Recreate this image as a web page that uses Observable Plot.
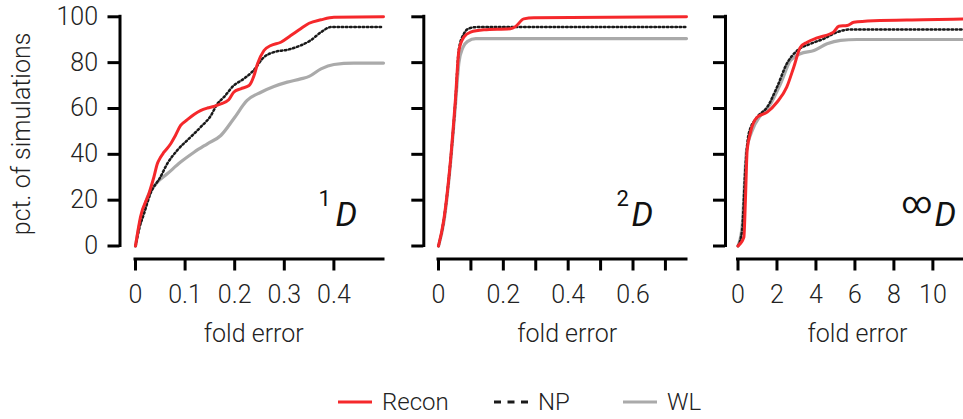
<!DOCTYPE html>
<html><head><meta charset="utf-8">
<script src="https://cdn.jsdelivr.net/npm/d3@7"></script>
<script src="https://cdn.jsdelivr.net/npm/@observablehq/plot@0.6"></script>
<style>
html,body{margin:0;padding:0;background:#fff;}
#chart{position:relative;width:963px;height:419px;overflow:hidden;background:#fff;font-family:Roboto,sans-serif;font-weight:300;color:#222;}
.panel{position:absolute;top:0;}
.panel svg{overflow:visible;}
#chart svg [aria-label="x-axis tick"] path,#chart svg [aria-label="y-axis tick"] path{stroke-width:3px;}
.legend-item{position:absolute;top:390px;height:24px;display:flex;align-items:center;font-size:24px;white-space:nowrap;}
.legend-item svg{margin-right:10px;}
</style>
</head><body>
<div id="chart"></div>
<script>
// ---- data (x = fold error, y = pct. of simulations) ----
const recon1 = [[0,0],[0.01,12.6],[0.027,22.8],[0.037,30],[0.044,35.9],[0.0505,38.7],[0.057,40.8],[0.071,44.6],[0.08,48],[0.091,52.6],[0.104,55],[0.118,57.4],[0.131,59.1],[0.145,60.2],[0.158,60.9],[0.172,62],[0.188,63.8],[0.198,67.1],[0.212,68.6],[0.229,70],[0.239,74.4],[0.246,79.5],[0.259,85.3],[0.273,87.5],[0.293,88.9],[0.313,91.8],[0.333,94.8],[0.35,97.2],[0.374,98.7],[0.4,99.8],[0.5,100]];
const np1 = [[0,0],[0.008,8],[0.017,14],[0.03,22.8],[0.05,30],[0.064,35.9],[0.084,41.7],[0.111,47.5],[0.131,51.8],[0.152,56.9],[0.165,62],[0.178,64.9],[0.198,70],[0.218,72.9],[0.238,76.6],[0.259,82.4],[0.279,84.6],[0.306,85.6],[0.333,87.5],[0.353,89.7],[0.374,93.3],[0.394,95.5],[0.5,95.5]];
const wl1 = [[0,0],[0.01,11.1],[0.024,21.3],[0.044,27.8],[0.064,31.5],[0.091,36.6],[0.118,40.9],[0.145,44.6],[0.172,48.2],[0.198,55.5],[0.225,63.5],[0.253,67.1],[0.279,69.6],[0.306,71.5],[0.333,72.9],[0.35,74],[0.374,77.3],[0.4,79.2],[0.44,79.8],[0.5,79.8]];

const recon2 = [[0,0],[0.016,11.1],[0.037,37.3],[0.052,63.5],[0.063,85.3],[0.078,91.1],[0.099,93.3],[0.14,94.3],[0.222,94.8],[0.238,95.8],[0.263,99.1],[0.294,99.6],[0.765,100]];
const np2 = [[0,0],[0.016,11],[0.037,37],[0.052,63],[0.063,86],[0.078,92.5],[0.095,95],[0.12,95.5],[0.765,95.5]];
const wl2 = [[0,0],[0.016,10],[0.037,36],[0.052,61],[0.063,80],[0.075,86.5],[0.09,89.3],[0.115,90.5],[0.765,90.5]];

const recon3 = [[0,0],[0.3,3.8],[0.38,19.9],[0.47,41.7],[0.64,49.6],[0.98,56.2],[1.5,58.4],[2.0,62.7],[2.5,69.3],[2.86,78],[3.2,86.7],[3.55,88.9],[4.06,90.8],[4.74,92.6],[4.9,93.3],[5.17,95.9],[5.6,96.2],[5.94,97.6],[6.96,98.3],[9.5,98.7],[12.7,99.2]];
const np3 = [[0,0],[0.21,6.8],[0.38,34],[0.55,49],[0.98,56.2],[1.5,60.6],[2.0,69.3],[2.5,79.5],[3.04,85.3],[3.72,88.2],[4.4,90.4],[5.09,93.3],[5.77,94.5],[12.7,94.5]];
const wl3 = [[0,0],[0.21,8.2],[0.44,41.7],[0.73,50.4],[1.15,56.9],[1.67,62],[2.18,70.8],[2.69,80.9],[3.2,83.9],[3.9,85.3],[4.57,88.2],[5.26,89.7],[6.1,90.1],[12.7,90.1]];

const yTicks = [0, 20, 40, 60, 80, 100];
const xTicks1 = [0, 0.1, 0.2, 0.3, 0.4];
const xLabels1 = [0, 0.1, 0.2, 0.3, 0.4];
const xTicks2 = [0, 0.1, 0.2, 0.3, 0.4, 0.5, 0.6, 0.7];
const xLabels2 = [0, 0.2, 0.4, 0.6];
const xTicks3 = [0, 2, 4, 6, 8, 10];
const xLabels3 = [0, 2, 4, 6, 8, 10];
const xDomains = [[0, 0.5], [0, 0.765], [0, 12.7]];
const panelSups = ["1", "2", "\u221E"];
const seriesNames = ["Recon", "NP", "WL"];
const yLabel = "pct. of simulations";
const xLabel = "fold error";

// ---- styles ----
const RED = "#f5282b", GRAY = "#aaaaaa", BLACK = "#1a1a1a";
const H = 360;

const panels = [
  {left: 0, width: 400, mL: 119.5, inset: 15.5, mR: 17, data: [wl1, np1, recon1], xt: xTicks1, xl: xLabels1, dom: xDomains[0], sup: panelSups[0], supDx: -65, supSize: 22, supDy: -53.5, dDx: -48, lblDx: 2, showY: true},
  {left: 400, width: 300, mL: 23.3, inset: 14.7, mR: 14, data: [wl2, np2, recon2], xt: xTicks2, xl: xLabels2, dom: xDomains[1], sup: panelSups[1], supDx: -70, supSize: 22, supDy: -53.5, dDx: -55, lblDx: 12, showY: false},
  {left: 700, width: 300, mL: 25, inset: 12.5, mR: 15, data: [wl3, np3, recon3], xt: xTicks3, xl: xLabels3, dom: xDomains[2], sup: panelSups[2], supDx: -84, supSize: 30, supDy: -46, dDx: -51, lblDx: 2, showY: false}
];

const chart = document.getElementById("chart");

panels.forEach((p) => {
  const [wl, np, rc] = p.data;
  const marks = [
    Plot.line(wl, {x: d => d[0], y: d => d[1], stroke: GRAY, strokeWidth: 3.2, curve: "monotone-x"}),
    Plot.line(np, {x: d => d[0], y: d => d[1], stroke: BLACK, strokeWidth: 2.5, strokeDasharray: "1.6 2.6", curve: "monotone-x"}),
    Plot.line(rc, {x: d => d[0], y: d => d[1], stroke: RED, strokeWidth: 3, curve: "monotone-x"}),
    // spines
    Plot.ruleX([0], {y1: 0, y2: 100, dx: -p.inset, stroke: "#000", strokeWidth: 3, strokeLinecap: "square"}),
    Plot.ruleY([0], {x1: p.dom[0], x2: p.dom[1], dy: 13, stroke: "#000", strokeWidth: 3, strokeLinecap: "square"}),
    Plot.axisY({ticks: yTicks, tickSize: 12, tickPadding: 10, strokeWidth: 3, stroke: "#000", fill: "#222", label: null,
      tickFormat: d => p.showY ? String(d) : ""}),
    Plot.axisX({ticks: p.xt, tickSize: 12, tickPadding: 14.5, strokeWidth: 3, stroke: "#000", fill: "#222", label: null,
      tickFormat: d => p.xl.includes(d) ? String(d) : ""}),
    Plot.text([xLabel], {frameAnchor: "bottom", lineAnchor: "bottom", dy: 83, dx: p.lblDx, fill: "#222"}),
    Plot.text([p.sup], {frameAnchor: "bottom-right", textAnchor: "start", lineAnchor: "bottom", dx: p.supDx, dy: p.supDy, fontSize: p.supSize, fontWeight: 400, fill: "#111"}),
    Plot.text(["D"], {frameAnchor: "bottom-right", textAnchor: "start", lineAnchor: "bottom", dx: p.dDx, dy: -33.5, fontSize: 34, fontWeight: 400, fontStyle: "italic", fill: "#111"})
  ];
  if (p.showY) {
    marks.push(Plot.text([yLabel], {frameAnchor: "left", rotate: -90, textAnchor: "middle", lineAnchor: "bottom", dx: -90, dy: -4, fill: "#222"}));
  }
  const svg = Plot.plot({
    width: p.width, height: H,
    marginLeft: p.mL, marginRight: p.mR, marginTop: 16.3, marginBottom: H - 258.5,
    x: {domain: p.dom, insetLeft: p.inset},
    y: {domain: [0, 100], insetBottom: 13},
    style: {fontFamily: "Roboto, sans-serif", fontSize: "25px", fontWeight: 300, background: "transparent", overflow: "visible"},
    marks
  });
  const div = document.createElement("div");
  div.className = "panel";
  div.style.left = p.left + "px";
  div.style.width = p.width + "px";
  div.appendChild(svg);
  chart.appendChild(div);
});

// ---- legend ----
const legendItems = [
  {name: seriesNames[0], left: 338, color: RED, dash: null, w: 3},
  {name: seriesNames[1], left: 494, color: BLACK, dash: "7 6.5", w: 3},
  {name: seriesNames[2], left: 623, color: GRAY, dash: null, w: 3.2}
];
legendItems.forEach(it => {
  const el = document.createElement("div");
  el.className = "legend-item";
  el.style.left = it.left + "px";
  el.innerHTML = `<svg width="34" height="8"><line x1="0" x2="34" y1="4" y2="4" stroke="${it.color}" stroke-width="${it.w}" ${it.dash ? `stroke-dasharray="${it.dash}"` : ""}/></svg><span>${it.name}</span>`;
  chart.appendChild(el);
});
</script>
</body></html>
